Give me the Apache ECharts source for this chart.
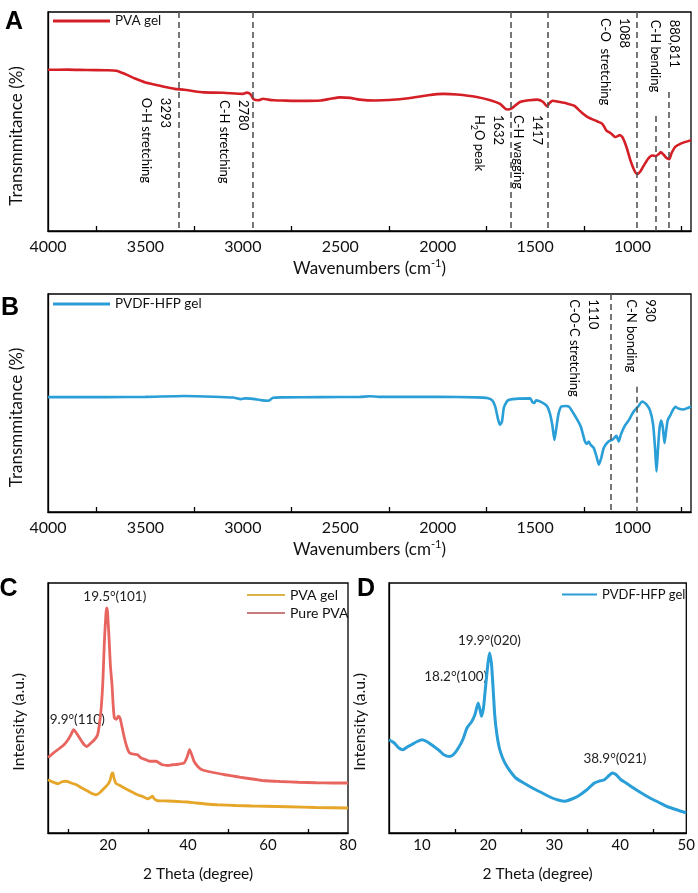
<!DOCTYPE html>
<html><head><meta charset="utf-8">
<script src="https://cdn.jsdelivr.net/npm/echarts@6/dist/echarts.min.js"></script>
<style>html,body{margin:0;padding:0;background:#fff}#c{width:698px;height:893px}</style>
</head><body><div id="c"></div>
<script>
// ---------- DATA ----------
const pvaGelFTIR = [[4000,73.6],[3900,73.7],[3800,73.5],[3700,73.4],[3650,73.2],[3600,71.5],[3550,69.5],[3500,67.8],[3450,66.8],[3400,65.8],[3350,64.9],[3300,64.5],[3250,63.8],[3200,63.3],[3100,63.1],[3000,62.6],[2980,63.2],[2960,62.4],[2945,60.2],[2920,59.7],[2896,60.4],[2870,60.0],[2840,59.7],[2800,59.6],[2700,59.4],[2600,59.6],[2550,60.4],[2500,61.0],[2450,60.8],[2400,60.0],[2320,59.6],[2250,59.8],[2150,60.6],[2050,62.0],[1970,62.6],[1900,62.3],[1800,61.2],[1730,59.7],[1680,58.0],[1645,55.5],[1620,56.0],[1580,58.8],[1530,59.7],[1490,60.0],[1460,59.0],[1440,57.0],[1425,58.5],[1410,59.5],[1380,59.0],[1340,58.3],[1300,57.2],[1260,54.0],[1230,52.0],[1180,50.0],[1155,48.9],[1135,46.0],[1110,44.5],[1088,42.9],[1065,43.8],[1050,42.5],[1030,38.0],[1010,32.0],[990,27.5],[976,26.0],[960,27.2],[945,29.5],[920,33.0],[900,34.5],[880,34.2],[865,35.2],[855,36.0],[840,34.8],[825,33.3],[812,32.8],[800,35.5],[780,38.5],[750,40.0],[700,41.5]];
const pvdfGelFTIR = [[4000,52.7],[3700,52.7],[3500,52.8],[3300,53.2],[3150,52.9],[3050,52.5],[3010,51.8],[2990,52.1],[2960,52.0],[2900,51.2],[2870,51.0],[2845,52.4],[2800,52.6],[2600,52.7],[2400,52.8],[2350,53.1],[2300,52.8],[2000,52.8],[1800,52.6],[1747,52.3],[1720,51.2],[1705,48.4],[1690,42.5],[1680,40.0],[1670,41.5],[1660,48.0],[1640,51.2],[1600,51.9],[1525,52.1],[1515,50.5],[1505,50.0],[1495,51.2],[1470,50.5],[1440,48.7],[1425,45.5],[1412,40.0],[1401,33.0],[1392,38.0],[1380,45.0],[1365,48.4],[1340,48.6],[1325,48.2],[1305,45.5],[1285,42.5],[1265,39.0],[1245,32.5],[1235,31.2],[1225,32.3],[1215,30.8],[1200,29.5],[1185,25.5],[1173,21.7],[1160,25.0],[1148,29.3],[1125,32.2],[1100,33.4],[1083,34.9],[1071,32.3],[1060,35.5],[1040,39.5],[1020,42.0],[995,46.0],[970,48.5],[951,50.7],[930,49.5],[910,46.5],[895,40.5],[885,30.0],[877,18.6],[870,28.0],[862,38.0],[853,42.0],[845,39.0],[836,31.6],[828,37.0],[819,42.3],[805,44.5],[797,46.1],[780,48.2],[765,47.5],[740,47.0],[720,47.6],[700,48.4]];
const purePVAXRD = [[5,30.2],[6,31.5],[7,32.8],[8,34.0],[9,35.3],[10,37.3],[10.8,39.5],[11.4,41.3],[12.1,40.0],[12.9,38.0],[13.8,35.8],[14.7,34.6],[15.6,35.8],[16.6,37.3],[17.4,39.3],[17.9,44.0],[18.3,50.0],[18.7,60.0],[19.1,76.7],[19.5,88.0],[19.7,90.0],[19.9,88.0],[20.3,76.7],[20.6,67.0],[21.0,59.3],[21.3,51.0],[21.6,46.0],[22.1,45.5],[22.6,46.7],[23.0,46.0],[23.3,44.0],[24.1,38.0],[24.8,34.0],[25.4,32.0],[26.5,31.5],[27.4,31.3],[28.3,30.0],[29.5,29.3],[30.5,28.7],[32.0,28.7],[32.8,28.0],[33.6,27.3],[35,27.0],[36.1,27.3],[37.5,27.5],[39.0,28.0],[39.8,30.5],[40.4,33.3],[41.0,31.0],[41.5,28.7],[42.5,26.5],[43.5,25.3],[46,24.3],[49.3,23.3],[52,22.6],[54.3,22.0],[57,21.4],[59.3,20.9],[63,20.6],[67.6,20.3],[72,20.1],[76,20.0],[80,20.0]];
const pvaGelXRD = [[5,21.3],[6,20.5],[7.5,19.7],[8.5,20.5],[9.6,20.7],[10.8,20.0],[12.1,19.3],[13.5,18.0],[15.0,16.7],[16.0,15.8],[17.0,15.3],[18.0,16.2],[19.1,18.0],[20.0,19.5],[20.5,21.0],[20.9,23.5],[21.2,24.0],[21.5,22.0],[22.0,19.8],[23.0,19.0],[24.1,18.0],[25.5,16.8],[27.4,15.3],[28.8,14.5],[29.9,13.7],[30.6,14.2],[31.1,14.7],[31.6,13.6],[32.5,12.9],[35,12.8],[37.5,12.6],[39.9,12.4],[42,12.0],[44.5,11.6],[47.3,11.3],[52,11.0],[56,10.8],[59.3,10.7],[65,10.5],[72,10.2],[80,10.0]];
const pvdfGelXRD = [[5,37.3],[5.8,36.0],[6.5,34.0],[7.1,33.3],[7.8,34.5],[8.4,35.3],[9.2,36.5],[10.0,37.3],[10.9,36.3],[11.8,34.6],[12.6,33.0],[13.3,31.3],[14.2,30.6],[14.8,31.5],[15.5,34.0],[16.2,37.5],[16.8,42.0],[17.5,44.5],[18.0,47.3],[18.5,52.0],[18.8,49.0],[19.0,46.7],[19.3,50.0],[19.5,55.3],[19.9,66.0],[20.2,72.0],[20.5,68.0],[20.8,56.0],[21.0,47.3],[21.3,40.0],[21.7,34.0],[22.2,30.0],[22.7,27.3],[23.4,24.5],[24.2,22.0],[25.4,20.0],[26.7,18.0],[28.2,16.0],[29.7,14.0],[30.6,13.2],[31.6,12.7],[32.6,13.5],[33.6,14.7],[34.8,17.0],[36.1,20.0],[36.9,20.8],[37.6,21.3],[38.3,23.0],[38.8,24.0],[39.3,23.5],[40.1,21.3],[41.0,19.8],[42.0,18.0],[43.2,16.0],[44.5,14.0],[45.8,12.3],[47.0,10.7],[48.3,9.5],[49.7,8.3],[50,8.2]];

// dashed marker lines: [wavenumber, top value]
const markersA = [[3330,100],[2947,100],[1624,100],[1436,100],[976,100],[882,52.5],[814,63.5]];
const markersB = [[1113,100],[980,57.5]];

// annotations: [x, y, text]
const notesA = [[3349,60.8,'{t|3293}\n{t|O-H stretching}'],[2948,59.8,'{t|2780}\n{t|C-H stretching}'],[1643,53.0,'{t|1632}\n{t|H}{s|2}{t|O peak}'],[1443,53.0,'{t|1417}\n{t|C-H wagging}'],[996,97.3,'{t|1088}\n{t|C-O  stretching}'],[736,96.5,'{t|880,811}\n{t|C-H bending}']];
const notesB = [[1151,97.6,'{t|1110}\n{t|C-O-C stretching}'],[859,97.6,'{t|930}\n{t|C-N bonding}']];
const notesC = [[21.7,94.6,'19.5°(101)'],[12.3,45.3,'9.9°(110)']];
const notesD = [[20.2,76.9,'19.9°(020)'],[15.1,62.6,'18.2°(100)'],[39.2,29.6,'38.9°(021)']];

// y-axis titles: [grid, text, font size, pixel offset left of axis, value at text centre]
const yTitles = [[0,'Transmmitance (%)',17,31,43.4],[1,'Transmmitance (%)',17,31,43.4],[2,'Intensity (a.u.)',16,29,44.5],[3,'Intensity (a.u.)',16,29,44.5]];

const ftirLabels = [1000,1500,2000,2500,3000,3500,4000];
const ftirTicks = [750,1250,1750,2250,2750,3250,3750];
const xrdCLabels = [20,40,60,80];
const xrdCTicks = [10,30,50,70];
const xrdDLabels = [10,20,30,40,50];
const xrdDTicks = [15,25,35,45];

// ---------- STYLE ----------
const FONT = 'Lato';
const RED = '#d41f26', BLUE = '#2a9ed6', ORANGE = '#e6a62a', SALMON = '#e8645f';

function xAxisFTIR(gi){
  return {gridIndex:gi,type:'value',inverse:true,min:700,max:4000,
    name:'{n|Wavenumbers (cm}{s|-1}{n|)}',nameLocation:'middle',nameGap:27,
    nameTextStyle:{rich:{n:{fontSize:17,fontFamily:FONT,color:'#111',lineHeight:22},s:{fontSize:11,fontFamily:FONT,color:'#111',verticalAlign:'top',lineHeight:22,padding:[0,0,8,0]}}},
    axisLine:{lineStyle:{color:'#000',width:1.3}},
    axisTick:{show:true,inside:true,length:5,customValues:ftirTicks,lineStyle:{color:'#000',width:1.3}},
    axisLabel:{customValues:ftirLabels,formatter:v=>String(v),fontSize:16,fontFamily:FONT,color:'#111',margin:8},
    splitLine:{show:false}};
}
function xAxisXRD(gi,min,max,labels,ticks){
  return {gridIndex:gi,type:'value',min:min,max:max,
    name:'2 Theta (degree)',nameLocation:'middle',nameGap:33,
    nameTextStyle:{fontSize:15.5,fontFamily:FONT,color:'#111'},
    axisLine:{lineStyle:{color:'#000',width:1.3}},
    axisTick:{show:true,inside:true,length:4,customValues:ticks,lineStyle:{color:'#000',width:1.3}},
    axisLabel:{customValues:labels,formatter:v=>String(v),fontSize:15,fontFamily:FONT,color:'#111',margin:5},
    splitLine:{show:false}};
}
function yAxis(gi){
  return {gridIndex:gi,type:'value',min:0,max:100,
    axisLine:{show:true,lineStyle:{color:'#000',width:1.3}},axisTick:{show:false},axisLabel:{show:false},splitLine:{show:false}};
}
function markLines(list){
  return {silent:true,symbol:'none',label:{show:false},
    lineStyle:{color:'#555',type:[6,4],width:1.6},
    data:list.map(m=>[{coord:[m[0],m[1]]},{coord:[m[0],0]}])};
}
const legendText = fs => ({fontSize:fs,fontFamily:FONT,color:'#111'});

const option = {
  animation:false,
  grid:[
    {left:48,right:7,top:12,height:219,show:true,borderColor:'#000',borderWidth:1.3},
    {left:48,right:7,top:294,height:218,show:true,borderColor:'#000',borderWidth:1.3},
    {left:48,width:300,top:583,height:250,show:true,borderColor:'#000',borderWidth:1.3},
    {left:389,width:301,top:583,height:250,show:true,borderColor:'#000',borderWidth:1.3}
  ],
  xAxis:[xAxisFTIR(0),xAxisFTIR(1),xAxisXRD(2,5,80,xrdCLabels,xrdCTicks),xAxisXRD(3,5,50,xrdDLabels,xrdDTicks)],
  yAxis:[yAxis(0),yAxis(1),yAxis(2),yAxis(3)],
  legend:[
    {left:53,top:14,padding:0,icon:'rect',itemWidth:57,itemHeight:3,selectedMode:false,textStyle:legendText(13.5),data:[{name:'PVA gel ',itemStyle:{color:RED}}]},
    {left:53,top:297,padding:0,icon:'rect',itemWidth:57,itemHeight:3,selectedMode:false,textStyle:legendText(13.5),data:[{name:'PVDF-HFP gel',itemStyle:{color:BLUE}}]},
    {left:247,top:588,padding:0,orient:'vertical',itemGap:4,icon:'rect',itemWidth:38,itemHeight:2,selectedMode:false,textStyle:legendText(14),data:[{name:'PVA gel',itemStyle:{color:'#d9b44a'}},{name:'Pure PVA',itemStyle:{color:'#c47c7c'}}]},
    {left:562,top:588,padding:0,icon:'rect',itemWidth:35,itemHeight:2,selectedMode:false,textStyle:legendText(13),data:[{name:'PVDF-HFP gel ',itemStyle:{color:BLUE}}]}
  ],
  series:[
    {name:'PVA gel ',type:'line',xAxisIndex:0,yAxisIndex:0,data:pvaGelFTIR,showSymbol:false,smooth:0.2,lineStyle:{color:RED,width:2.6},itemStyle:{color:RED},markLine:markLines(markersA)},
    {name:'PVDF-HFP gel',type:'line',xAxisIndex:1,yAxisIndex:1,data:pvdfGelFTIR,showSymbol:false,smooth:0.2,lineStyle:{color:BLUE,width:2.6},itemStyle:{color:BLUE},markLine:markLines(markersB)},
    {name:'Pure PVA',type:'line',xAxisIndex:2,yAxisIndex:2,data:purePVAXRD,showSymbol:false,smooth:0.2,lineStyle:{color:SALMON,width:2.8},itemStyle:{color:SALMON}},
    {name:'PVA gel',type:'line',xAxisIndex:2,yAxisIndex:2,data:pvaGelXRD,showSymbol:false,smooth:0.2,lineStyle:{color:ORANGE,width:2.8},itemStyle:{color:ORANGE}},
    {name:'PVDF-HFP gel ',type:'line',xAxisIndex:3,yAxisIndex:3,data:pvdfGelXRD,showSymbol:false,smooth:0.2,lineStyle:{color:BLUE,width:3},itemStyle:{color:BLUE}}
  ]
};

const chart = echarts.init(document.getElementById('c'),null,{renderer:'canvas'});
chart.setOption(option);

// annotations positioned through the axes
const rich = {t:{fontSize:13,fontFamily:FONT,color:'#222',lineHeight:19},s:{fontSize:9,fontFamily:FONT,color:'#222',lineHeight:19,verticalAlign:'bottom',padding:[6,0,0,0]}};
const graphics = [];
function rotNotes(list,gi){
  list.forEach(n=>{
    const p = chart.convertToPixel({xAxisIndex:gi,yAxisIndex:gi},[n[0],n[1]]);
    graphics.push({type:'text',x:p[0],y:p[1],rotation:-Math.PI/2,silent:true,
      style:{text:n[2],rich:rich,align:'left',verticalAlign:'top'}});
  });
}
function flatNotes(list,gi){
  list.forEach(n=>{
    const p = chart.convertToPixel({xAxisIndex:gi,yAxisIndex:gi},[n[0],n[1]]);
    graphics.push({type:'text',x:p[0],y:p[1],silent:true,
      style:{text:n[2],fontSize:13.5,fontFamily:FONT,fill:'#222',align:'center',verticalAlign:'middle'}});
  });
}
rotNotes(notesA,0); rotNotes(notesB,1); flatNotes(notesC,2); flatNotes(notesD,3);
yTitles.forEach(t=>{
  const gi=t[0];
  const xAx = chart.getModel().getComponent('xAxis',gi).axis;
  const ext = xAx.getExtent();
  const yPix = chart.convertToPixel({yAxisIndex:gi},t[4]);
  const rect = chart.getModel().getComponent('grid',gi).coordinateSystem.getRect();
  graphics.push({type:'text',x:rect.x - t[3],y:yPix,rotation:Math.PI/2,silent:true,
    style:{text:t[1],fontSize:t[2],fontFamily:FONT,fill:'#111',align:'center',verticalAlign:'middle'}});
});
[['A',14,22.5],['B',10,308],['C',8.5,589],['D',366,589]].forEach(l=>{
  graphics.push({type:'text',x:l[1],y:l[2],silent:true,style:{text:l[0],fontSize:25,fontWeight:'bold',fontFamily:'Liberation Sans',fill:'#000',align:'center',verticalAlign:'middle'}});
});
chart.setOption({graphic:graphics});
</script>
</body></html>
